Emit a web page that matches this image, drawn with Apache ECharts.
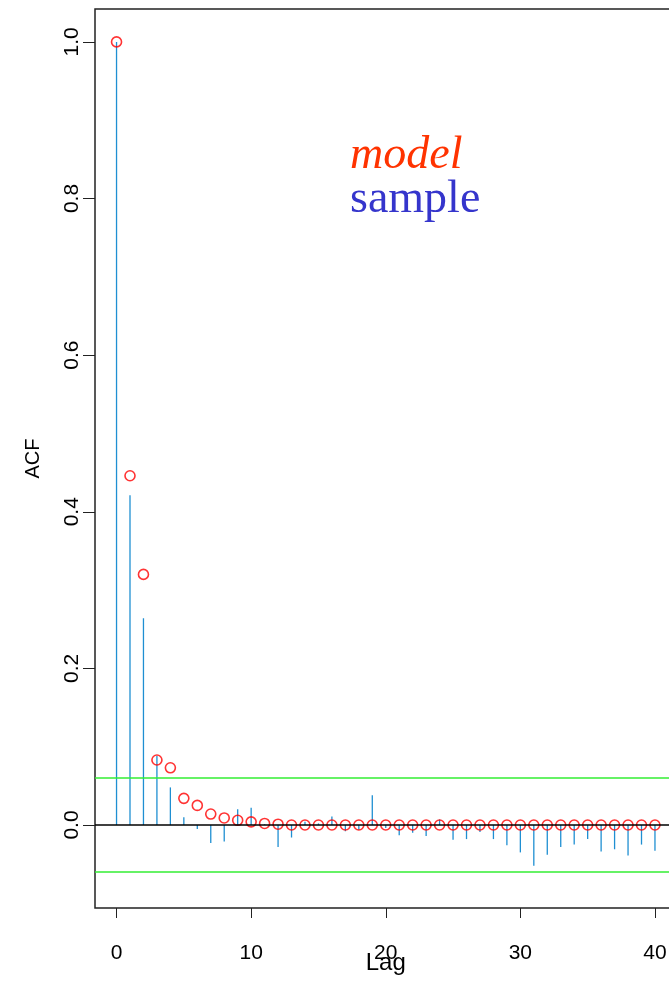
<!DOCTYPE html>
<html>
<head>
<meta charset="utf-8">
<title>ACF: model vs sample</title>
<script src="https://cdn.jsdelivr.net/npm/echarts@6/dist/echarts.min.js"></script>
<style>
  html, body { margin: 0; padding: 0; background: #ffffff; }
  #chart { width: 669px; height: 981px; }
</style>
</head>
<body>
<div id="chart"></div>
<script>
// Lags 0..40
const lags = Array.from({ length: 41 }, (_, i) => i);

// Theoretical autocorrelation of the fitted model
const modelAcf = [
  1.000, 0.446, 0.320, 0.083, 0.073, 0.034, 0.025, 0.014, 0.009, 0.006,
  0.004, 0.002, 0.001, 0.000, 0.000, 0.000, 0.000, 0.000, 0.000, 0.000,
  0.000, 0.000, 0.000, 0.000, 0.000, 0.000, 0.000, 0.000, 0.000, 0.000,
  0.000, 0.000, 0.000, 0.000, 0.000, 0.000, 0.000, 0.000, 0.000, 0.000,
  0.000
];

// Sample autocorrelation of the simulated series
const sampleAcf = [
  1.000, 0.421, 0.264, 0.088, 0.048, 0.010, -0.005, -0.023, -0.021, 0.020,
  0.022, 0.001, -0.028, -0.016, 0.004, 0.002, 0.011, -0.008, -0.006, 0.038,
  -0.004, -0.013, -0.010, -0.014, 0.007, -0.019, -0.018, -0.009, -0.018, -0.026,
  -0.035, -0.052, -0.038, -0.028, -0.025, -0.018, -0.034, -0.031, -0.039, -0.025,
  -0.033
];

// Approximate 95% confidence bound for white noise
const ciBound = 0.062;

const xTicks = [0, 10, 20, 30, 40];
const yTicks = [0.0, 0.2, 0.4, 0.6, 0.8, 1.0];

const chart = echarts.init(document.getElementById('chart'), null, { renderer: 'canvas' });

const axisFont = '"Liberation Sans", Arial, Helvetica, sans-serif';

chart.setOption({
  animation: false,
  backgroundColor: '#ffffff',
  grid: {
    left: 95,
    top: 9,
    width: 581.5,
    height: 899,
    outerBoundsMode: 'none',
    containLabel: false,
    show: true,
    borderColor: '#222222',
    borderWidth: 1.5,
    backgroundColor: 'transparent'
  },
  xAxis: {
    type: 'value',
    min: -1.6,
    max: 41.6,
    name: 'Lag',
    nameLocation: 'middle',
    nameGap: 43,
    nameMoveOverlap: false,
    nameTextStyle: { fontFamily: axisFont, fontSize: 24, color: '#000' },
    splitLine: { show: false },
    axisLine: { show: false, onZero: false },
    axisTick: {
      show: true, inside: false, length: 10,
      customValues: xTicks,
      lineStyle: { color: '#222', width: 1 }
    },
    axisLabel: {
      customValues: xTicks,
      margin: 35,
      fontFamily: axisFont,
      fontSize: 21,
      color: '#000',
      formatter: v => String(v)
    }
  },
  yAxis: {
    type: 'value',
    min: -0.106,
    max: 1.042,
    name: 'ACF',
    nameLocation: 'middle',
    nameRotate: 90,
    nameGap: 52,
    nameMoveOverlap: false,
    nameTextStyle: { fontFamily: axisFont, fontSize: 20, color: '#000' },
    splitLine: { show: false },
    axisLine: { show: false, onZero: false },
    axisTick: {
      show: true, inside: false, length: 12,
      customValues: yTicks,
      lineStyle: { color: '#222', width: 1 }
    },
    axisLabel: {
      customValues: yTicks,
      rotate: 90,
      margin: 12,
      fontFamily: axisFont,
      fontSize: 21,
      color: '#000',
      formatter: v => v.toFixed(1)
    }
  },
  series: [
    {
      name: 'sample',
      type: 'custom',
      z: 2,
      silent: true,
      data: lags.map((l, i) => [l, sampleAcf[i]]),
      renderItem: function (params, api) {
        const base = api.coord([api.value(0), 0]);
        const tip = api.coord([api.value(0), api.value(1)]);
        return {
          type: 'line',
          shape: { x1: base[0], y1: base[1], x2: tip[0], y2: tip[1] },
          style: { stroke: '#1f8fd2', lineWidth: 1.3 }
        };
      }
    },
    {
      name: 'reference',
      type: 'line',
      data: [],
      z: 3,
      silent: true,
      markLine: {
        silent: true,
        symbol: 'none',
        label: { show: false },
        animation: false,
        data: [
          { yAxis: 0, lineStyle: { color: '#000000', width: 1.5, type: 'solid' } },
          { yAxis: ciBound, lineStyle: { color: '#33ee33', width: 1.5, type: 'solid' } },
          { yAxis: -ciBound, lineStyle: { color: '#33ee33', width: 1.5, type: 'solid' } }
        ]
      }
    },
    {
      name: 'model',
      type: 'scatter',
      z: 4,
      silent: true,
      symbol: 'circle',
      symbolSize: 10,
      data: lags.map((l, i) => [l, modelAcf[i]]),
      itemStyle: { color: 'rgba(0,0,0,0)', borderColor: '#ff0000', borderWidth: 1.6 }
    }
  ],
  graphic: [
    {
      type: 'text',
      left: 350,
      top: 133,
      style: {
        text: 'model',
        font: 'italic 46px "Liberation Serif", "Times New Roman", serif',
        fill: '#ff3300'
      }
    },
    {
      type: 'text',
      left: 350,
      top: 177,
      style: {
        text: 'sample',
        font: '46px "Liberation Serif", "Times New Roman", serif',
        fill: '#3535cc'
      }
    }
  ]
});
</script>
</body>
</html>
